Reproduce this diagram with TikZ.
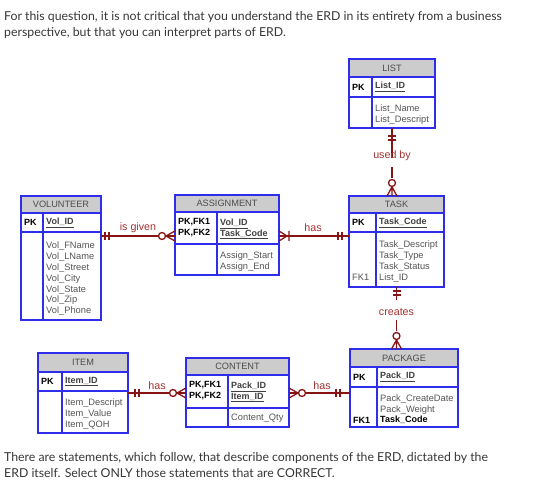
\documentclass[tikz,border=0pt]{standalone}
\usepackage{fontspec}
\setmainfont{Lato}
\newfontfamily\erdfont{Liberation Sans}
\usetikzlibrary{positioning,calc}
\definecolor{boxclr}{RGB}{45,45,235}
\definecolor{headclr}{RGB}{204,204,204}
\definecolor{relclr}{RGB}{135,20,20}
\definecolor{lblclr}{RGB}{165,50,50}
\definecolor{attclr}{RGB}{85,85,85}
\definecolor{qclr}{RGB}{55,55,55}
\tikzset{
  ehead/.style={rectangle,draw=boxclr,fill=headclr,line width=1.1pt,
                outer sep=0pt,inner sep=0pt,text=black!70,
                font=\erdfont\fontsize{9.2}{10}\selectfont},
  ebox/.style={rectangle,draw=boxclr,fill=white,line width=1.1pt,
               outer sep=0pt,inner sep=0pt},
  ediv/.style={draw=boxclr,line width=1.1pt},
  kcol/.style={anchor=west,inner sep=0pt,align=left,
               font=\erdfont\bfseries\fontsize{9}{10.8}\selectfont},
  kname/.style={kcol,text=black!75},
  attr/.style={anchor=north west,inner sep=0pt,align=left,text=attclr,
               font=\erdfont\fontsize{9.3}{10.8}\selectfont},
  rel/.style={draw=relclr,line width=1.3pt},
  rlabel/.style={text=lblclr,inner sep=0pt,
                 font=\erdfont\fontsize{10.7}{12}\selectfont},
  qtext/.style={anchor=north west,inner sep=0pt,align=left,text=qclr,
                font=\fontsize{12.3}{16}\selectfont},
  onemark/.pic={\draw[rel] (0,-4) -- (0,4) (4,-4) -- (4,4);},
  zeromany/.pic={\draw[rel] (-9,0) -- (0,-5) (-9,0) -- (0,5) (-9,0) -- (0,0);
                 \draw[rel,fill=white] (-13,0) circle (3.5);},
  onemany/.pic={\draw[rel] (-8,0) -- (0,-5) (-8,0) -- (0,5) (-10,-5) -- (-10,5);},
}
\begin{document}
\begin{tikzpicture}[x=1pt,y=-1pt]
\path[use as bounding box,fill=white] (0,0) rectangle (552,497);

% question text
\node[qtext] (qtop) at (4,11) {For this question, it is not critical that you understand the ERD in its entirety from a business\\
perspective, but that you can interpret parts of ERD.};
\node[qtext] (qbot) at (4,452) {There are statements, which follow, that describe components of the ERD, dictated by the\\
ERD itself. Select ONLY those statements that are CORRECT.};

% LIST
\node[ehead,minimum width=86,minimum height=18] (list) at (392,68) {LIST};
\node[ebox,minimum width=86,minimum height=20,below=0pt of list] (list-k) {};
\node[ebox,minimum width=86,minimum height=31,below=0pt of list-k] (list-a) {};
\draw[ediv] ([xshift=23pt]list-k.north west) -- ([xshift=23pt]list-a.south west);
\node[kcol] (list-pk) at (352,87) {PK};
\node[kname] (list-id) at (375,87) {\underline{List\_ID}};
\node[attr] (list-at) at (375,105) {List\_Name\\List\_Descript};

% TASK
\node[ehead,minimum width=95,minimum height=17] (task) at (396.5,204.5) {TASK};
\node[ebox,minimum width=95,minimum height=19,below=0pt of task] (task-k) {};
\node[ebox,minimum width=95,minimum height=55,below=0pt of task-k] (task-a) {};
\draw[ediv] ([xshift=27pt]task-k.north west) -- ([xshift=27pt]task-a.south west);
\node[kcol] (task-pk) at (352,222.5) {PK};
\node[kname] (task-id) at (379,222.5) {\underline{Task\_Code}};
\node[attr] (task-at) at (379,241) {Task\_Descript\\Task\_Type\\Task\_Status\\List\_ID};
\node[attr,anchor=west] (task-fk) at (352,277) {FK1};

% ASSIGNMENT
\node[ehead,minimum width=104,minimum height=17] (asg) at (227,203.5) {ASSIGNMENT};
\node[ebox,minimum width=104,minimum height=32,below=0pt of asg] (asg-k) {};
\node[ebox,minimum width=104,minimum height=31,below=0pt of asg-k] (asg-a) {};
\draw[ediv] ([xshift=42pt]asg-k.north west) -- ([xshift=42pt]asg-a.south west);
\node[kcol,anchor=north west] (asg-pk) at (178,218.5) {PK,FK1\\PK,FK2};
\node[kname,anchor=north west] (asg-id) at (220,218.5) {\underline{Vol\_ID}\\\underline{Task\_Code}};
\node[attr] (asg-at) at (220,252) {Assign\_Start\\Assign\_End};

% VOLUNTEER
\node[ehead,minimum width=80,minimum height=17] (vol) at (61,204.5) {VOLUNTEER};
\node[ebox,minimum width=80,minimum height=19,below=0pt of vol] (vol-k) {};
\node[ebox,minimum width=80,minimum height=88,below=0pt of vol-k] (vol-a) {};
\draw[ediv] ([xshift=22pt]vol-k.north west) -- ([xshift=22pt]vol-a.south west);
\node[kcol] (vol-pk) at (24,222.5) {PK};
\node[kname] (vol-id) at (46,222.5) {\underline{Vol\_ID}};
\node[attr] (vol-at) at (46,242) {Vol\_FName\\Vol\_LName\\Vol\_Street\\Vol\_City\\Vol\_State\\Vol\_Zip\\Vol\_Phone};

% ITEM
\node[ehead,minimum width=90,minimum height=19] (item) at (83,362.5) {ITEM};
\node[ebox,minimum width=90,minimum height=19,below=0pt of item] (item-k) {};
\node[ebox,minimum width=90,minimum height=42,below=0pt of item-k] (item-a) {};
\draw[ediv] ([xshift=24pt]item-k.north west) -- ([xshift=24pt]item-a.south west);
\node[kcol] (item-pk) at (41,381.5) {PK};
\node[kname] (item-id) at (65,381.5) {\underline{Item\_ID}};
\node[attr] (item-at) at (65,399) {Item\_Descript\\Item\_Value\\Item\_QOH};

% CONTENT
\node[ehead,minimum width=103,minimum height=17] (cnt) at (237.5,366.5) {CONTENT};
\node[ebox,minimum width=103,minimum height=33,below=0pt of cnt] (cnt-k) {};
\node[ebox,minimum width=103,minimum height=19,below=0pt of cnt-k] (cnt-a) {};
\draw[ediv] ([xshift=42pt]cnt-k.north west) -- ([xshift=42pt]cnt-a.south west);
\node[kcol,anchor=north west] (cnt-pk) at (189,381.5) {PK,FK1\\PK,FK2};
\node[kname,anchor=north west] (cnt-id) at (231,381.5) {\underline{Pack\_ID}\\\underline{Item\_ID}};
\node[attr,anchor=west] (cnt-at) at (231,418) {Content\_Qty};

% PACKAGE
\node[ehead,minimum width=108,minimum height=18] (pkg) at (404,358) {PACKAGE};
\node[ebox,minimum width=108,minimum height=20,below=0pt of pkg] (pkg-k) {};
\node[ebox,minimum width=108,minimum height=40,below=0pt of pkg-k] (pkg-a) {};
\draw[ediv] ([xshift=27pt]pkg-k.north west) -- ([xshift=27pt]pkg-a.south west);
\node[kcol] (pkg-pk) at (353,377) {PK};
\node[kname] (pkg-id) at (380,377) {\underline{Pack\_ID}};
\node[attr] (pkg-at) at (380,395) {Pack\_CreateDate\\Pack\_Weight};
\node[kcol] (pkg-fk) at (353,420) {FK1};
\node[kcol] (pkg-tc) at (380,420) {Task\_Code};

% relationships
\coordinate (gv) at ($(vol-a.north east)+(0,4)$);
\coordinate (ic) at ($(item-a.north east)+(0,2)$);

\draw[rel,dash pattern=on 30pt off 9pt on 11pt off 30pt] (list-a.south) -- (list-a.south |- task.north);
\pic[rotate=-90] at ($(list-a.south)+(0,8)$) {onemark};
\pic[rotate=-90] at (list-a.south |- task.north) {zeromany};
\node[rlabel] (usedby) at (392,156) {used by};

\draw[rel,dash pattern=on 13pt off 20pt on 11pt off 30pt] (task-a.south) -- (task-a.south |- pkg.north);
\pic[rotate=-90] at ($(task-a.south)+(0,4)$) {onemark};
\pic[rotate=-90] at (task-a.south |- pkg.north) {zeromany};
\node[rlabel] (creates) at (396.5,312) {creates};

\draw[rel] (gv) -- (gv -| asg-k.west);
\pic at ($(gv)+(4,0)$) {onemark};
\pic at (gv -| asg-k.west) {zeromany};
\node[rlabel] (isgiven) at (138,228) {is given};

\draw[rel] (gv -| asg-k.east) -- (gv -| task-a.west);
\pic[rotate=180] at (gv -| asg-k.east) {onemany};
\pic[rotate=180] at ($(gv -| task-a.west)+(-7,0)$) {onemark};
\node[rlabel] (has1) at (313,228) {has};

\draw[rel] (ic) -- (ic -| cnt-k.west);
\pic at ($(ic)+(7,0)$) {onemark};
\pic at (ic -| cnt-k.west) {zeromany};
\node[rlabel] (has2) at (157,386) {has};

\draw[rel] (ic -| cnt-k.east) -- (ic -| pkg-a.west);
\pic[rotate=180] at (ic -| cnt-k.east) {zeromany};
\pic[rotate=180] at ($(ic -| pkg-a.west)+(-10,0)$) {onemark};
\node[rlabel] (has3) at (322,386) {has};
\end{tikzpicture}
\end{document}
